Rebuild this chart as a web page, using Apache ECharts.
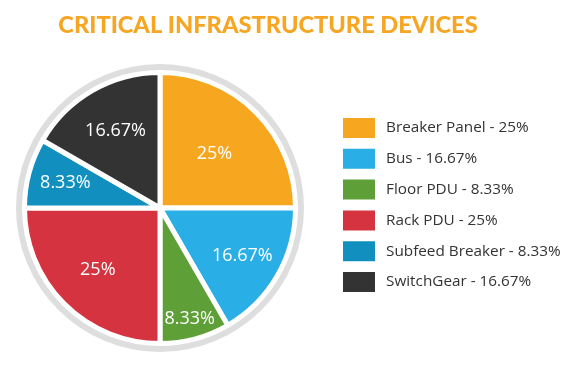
<!DOCTYPE html>
<html><head><meta charset="utf-8">
<script src="https://cdn.jsdelivr.net/npm/echarts@6/dist/echarts.min.js"></script>
<style>html,body{margin:0;padding:0;background:#fff}#c{width:578px;height:368px}</style>
</head><body><div id="c"></div>
<script>
var categories = ['Breaker Panel', 'Bus', 'Floor PDU', 'Rack PDU', 'Subfeed Breaker', 'SwitchGear'];
var percentValues = [25, 16.67, 8.33, 25, 8.33, 16.67];
var sliceColors = ['#f6a71f', '#29afe6', '#5f9f37', '#d4333f', '#1190c0', '#333333'];
// radial distance of each in-slice label from the centre (layout only)
var labelRadius = [74, 92, 112, 85, 95, 86];

var CX = 160, CY = 208, R = 135.5;
var total = percentValues.reduce(function(a, b){ return a + b; }, 0);
var acc = 0;
var data = categories.map(function(name, i){
  var mid = (acc + percentValues[i] / 2) / total * Math.PI * 2;
  acc += percentValues[i];
  var d = labelRadius[i] - R / 2;
  return {
    name: name,
    value: percentValues[i],
    itemStyle: { color: sliceColors[i] },
    label: { offset: [d * Math.sin(mid), -d * Math.cos(mid)] }
  };
});

var chart = echarts.init(document.getElementById('c'), null, { renderer: 'canvas' });
chart.setOption({
  animation: false,
  title: {
    text: 'CRITICAL INFRASTRUCTURE DEVICES',
    left: 263, top: 8, textAlign: 'center',
    textStyle: { color: '#f6a623', fontFamily: 'Lato', fontWeight: 900, fontSize: 23.6 }
  },
  graphic: [{
    type: 'ring', silent: true, z: -1,
    shape: { cx: CX, cy: CY, r: 144, r0: 137 },
    style: { fill: '#dedede' }
  }],
  legend: {
    orient: 'vertical', left: 336, top: 111,
    itemWidth: 34, itemHeight: 22, itemGap: 6.8,
    icon: 'rect',
    textStyle: { color: '#333', fontFamily: 'Open Sans', fontSize: 15.3, padding: [0, 0, 0, 5] },
    formatter: function(name){
      var i = categories.indexOf(name);
      return name + ' - ' + percentValues[i] + '%';
    },
    data: categories
  },
  series: [{
    type: 'pie',
    center: [CX, CY],
    radius: [0, R],
    startAngle: 90,
    clockwise: true,
    silent: true,
    itemStyle: { borderColor: '#fff', borderWidth: 5 },
    label: {
      show: true, position: 'inside',
      formatter: '{c}%',
      color: '#fff', fontFamily: 'Open Sans', fontSize: 18, fontWeight: 500
    },
    labelLine: { show: false },
    data: data
  }]
});
</script>
</body></html>
